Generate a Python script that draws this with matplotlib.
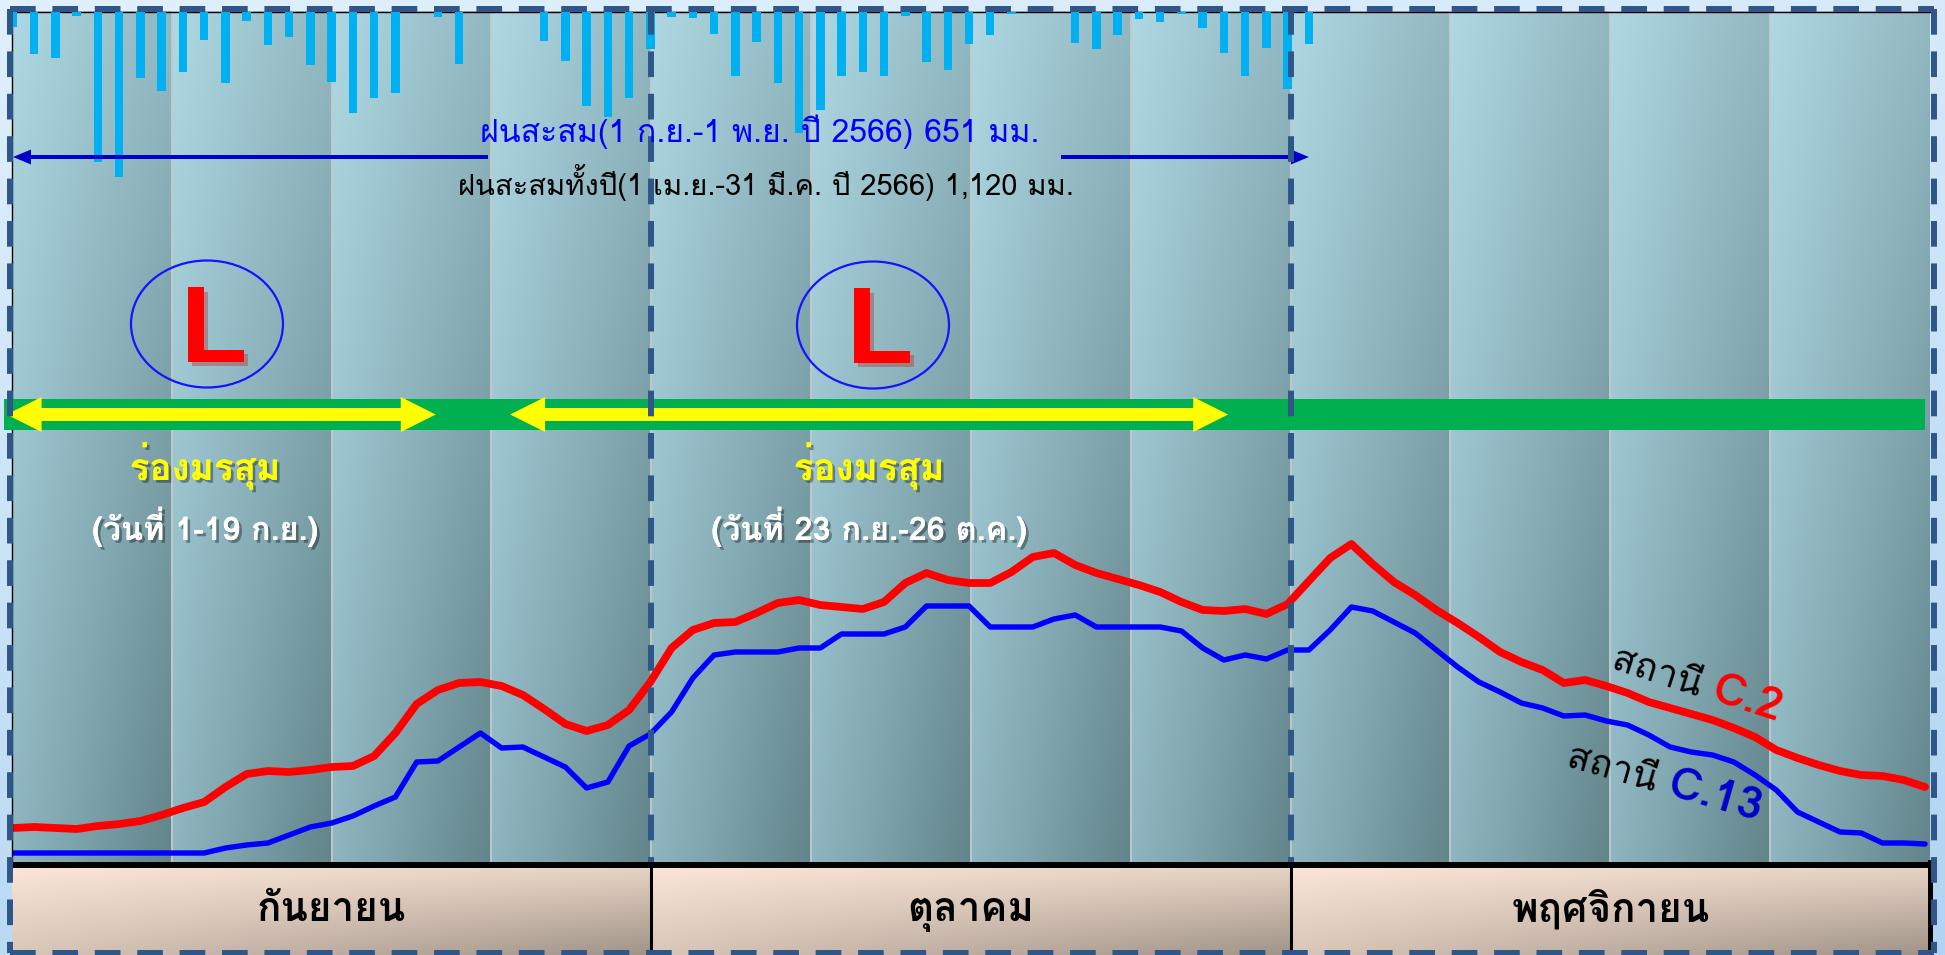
import numpy as np
import matplotlib
matplotlib.use("Agg")
import matplotlib.pyplot as plt
import matplotlib.patheffects as pe
from matplotlib.patches import Ellipse, Polygon, FancyArrow, Rectangle

# Loma stacks Thai tone marks over upper vowels (วันที่, ทั้ง) without shaping
THAI = ["Loma", "Sarabun", "DejaVu Sans"]
plt.rcParams["font.family"] = THAI

# daily rain (mm), 1 Sep - 1 Nov 2566
rain_mm = [3.4, 9.8, 10.7, 0.9, 35.0, 38.5, 15.4, 18.4, 14.0, 6.5,
           16.5, 2.1, 7.7, 5.8, 12.3, 16.3, 23.5, 20.0, 18.9, 0.0,
           1.2, 12.1, 0.0, 0.0, 0.0, 6.8, 11.4, 21.9, 24.5, 20.0,
           8.6, 1.2, 1.4, 5.1, 14.9, 7.0, 16.5, 28.2, 22.8, 14.9,
           14.0, 14.9, 0.9, 11.6, 13.5, 7.5, 5.4, 0.5, 0.0, 0.0,
           7.2, 8.6, 5.4, 1.6, 2.3, 0.5, 3.7, 9.6, 14.9, 8.4,
           17.9, 7.5]

# water level above chart base (m), 1 Sep - 30 Nov
level_c2 = [0.34, 0.35, 0.34, 0.33, 0.36, 0.38, 0.41, 0.47, 0.54, 0.60,
            0.75, 0.88, 0.91, 0.90, 0.92, 0.95, 0.96, 1.06, 1.29, 1.58,
            1.72, 1.79, 1.80, 1.76, 1.67, 1.53, 1.38, 1.31, 1.37, 1.52,
            1.80, 2.14, 2.32, 2.39, 2.40, 2.49, 2.59, 2.62, 2.57, 2.55,
            2.53, 2.60, 2.79, 2.89, 2.82, 2.79, 2.79, 2.90, 3.05, 3.09,
            2.97, 2.89, 2.83, 2.77, 2.70, 2.60, 2.52, 2.51, 2.53, 2.48,
            2.58, 2.81, 3.04, 3.18, 2.98, 2.80, 2.67, 2.52, 2.39, 2.25,
            2.10, 2.00, 1.92, 1.79, 1.82, 1.76, 1.69, 1.60, 1.54, 1.48,
            1.42, 1.34, 1.25, 1.12, 1.04, 0.97, 0.91, 0.87, 0.86, 0.82,
            0.75]
level_c13 = [0.09, 0.09, 0.09, 0.09, 0.09, 0.09, 0.09, 0.09, 0.09, 0.09,
             0.14, 0.17, 0.19, 0.27, 0.35, 0.39, 0.46, 0.56, 0.65, 1.00,
             1.01, 1.15, 1.29, 1.14, 1.15, 1.05, 0.95, 0.74, 0.80, 1.16,
             1.28, 1.50, 1.84, 2.07, 2.10, 2.10, 2.10, 2.14, 2.14, 2.28,
             2.28, 2.28, 2.35, 2.56, 2.56, 2.56, 2.35, 2.35, 2.35, 2.43,
             2.47, 2.35, 2.35, 2.35, 2.35, 2.31, 2.14, 2.02, 2.07, 2.03,
             2.12, 2.12, 2.32, 2.55, 2.51, 2.40, 2.29, 2.12, 1.95, 1.80,
             1.70, 1.59, 1.54, 1.46, 1.47, 1.41, 1.37, 1.27, 1.15, 1.10,
             1.07, 1.00, 0.87, 0.72, 0.50, 0.40, 0.30, 0.29, 0.19, 0.19,
             0.18]

months = ["กันยายน", "ตุลาคม", "พฤศจิกายน"]
# monsoon trough periods (day index from 1 Sep)
trough_start = [-0.3, 23.4]
trough_end = [19.9, 57.2]
trough_dates = ["(วันที่ 1-19 ก.ย.)", "(วันที่ 23 ก.ย.-26 ต.ค.)"]
rain_note = "ฝนสะสม(1 ก.ย.-1 พ.ย. ปี 2566) 651 มม."
year_note = "ฝนสะสมทั้งปี(1 เม.ย.-31 มี.ค. ปี 2566) 1,120 มม."
stations = ["C.2", "C.13"]

W, H = 1945, 955
L, R, T, B = 12, 1930, 12, 862          # plot box, pixels from top-left
DASH = "#2f5689"

fig = plt.figure(figsize=(W / 100, H / 100), dpi=100)


def pixel_axes(z):
    a = fig.add_axes([0, 0, 1, 1], zorder=z)
    a.axis("off")
    a.patch.set_alpha(0)
    return a


def fix(a):
    a.set_xlim(0, W)
    a.set_ylim(H, 0)


def bilinear(h, w, tl, tr, bl, br):
    u = np.linspace(0, 1, w)[None, :, None]
    v = np.linspace(0, 1, h)[:, None, None]
    tl, tr, bl, br = (np.array(c) / 255 for c in (tl, tr, bl, br))
    return (1 - u) * (1 - v) * tl + u * (1 - v) * tr + (1 - u) * v * bl + u * v * br


# ---- background: page, shaded columns, month boxes
bg = pixel_axes(0)
bg.imshow(bilinear(60, 60, (224, 240, 252), (214, 234, 250), (186, 218, 244), (176, 212, 242)),
          extent=(0, W, H, 0), aspect="auto", interpolation="bilinear")
sw = (R - L) / 12
col = bilinear(B - T, 160, (174, 216, 227), (146, 184, 193), (142, 182, 192), (98, 132, 139))
for k in range(12):
    x0 = L + k * sw
    bg.imshow(col, extent=(x0, x0 + sw, B, T), aspect="auto", interpolation="bilinear")
    if k:
        bg.plot([x0, x0], [T, B], color="#c4cbcd", lw=1.3)
mw = (R - L) / 3
box = bilinear(80, 160, (251, 230, 215), (232, 212, 197), (216, 198, 184), (160, 147, 136))
for k in range(3):
    bg.imshow(box, extent=(L + k * mw, L + (k + 1) * mw, H, B + 4), aspect="auto",
              interpolation="bilinear")
fix(bg)

# ---- data: water levels and daily rain
ax = fig.add_axes([L / W, 1 - B / H, (R - L) / W, (B - T) / H], zorder=1)
ax.patch.set_alpha(0)
days = np.arange(len(level_c2))
ax.plot(days, level_c2, color="#ff0000", lw=5.6, solid_joinstyle="round", solid_capstyle="round")
ax.plot(days, level_c13, color="#0000ff", lw=3.9, solid_joinstyle="round", solid_capstyle="round")
ax.set_xlim(-0.047, 90.235)
ax.set_ylim(0, 8.5)
ax.set_xticks([])
ax.set_yticks([])
for s in ("right", "bottom"):
    ax.spines[s].set_visible(False)
for s in ("left", "top"):
    ax.spines[s].set_color("black")
    ax.spines[s].set_linewidth(1.0)

rax = ax.twinx()
rax.bar(np.arange(len(rain_mm)), rain_mm, width=0.4, color="#00b0f0")
rax.set_ylim(198, 0)
rax.axis("off")


def px_x(d):
    return ax.transData.transform((d, 0))[0]


# ---- annotations
top = pixel_axes(3)

# accumulated rain arrow with the note in its gap
ya = 157
for x_from, x_to in ((488, px_x(0)), (1061, px_x(len(rain_mm) - 1))):
    top.add_patch(FancyArrow(x_from, ya, x_to - x_from, 0, width=4, head_width=15, head_length=18,
                             length_includes_head=True, color="#0000cc", lw=0))
top.text(760, 142, rain_note, color="#0000ff", fontsize=23, ha="center", va="baseline")
top.text(766, 195, year_note, color="black", fontsize=21, ha="center", va="baseline")

# low pressure marks
shadow = [pe.withSimplePatchShadow(offset=(2, -2), shadow_rgbFace="black", alpha=0.35), pe.Normal()]
for cx, cy in ((207, 324), (873, 325)):
    top.add_patch(Ellipse((cx, cy), 152, 127, fill=False, ec="#1414ff", lw=1.6))
    top.text(cx + 7, cy + 38, "L", color="#ff0000", fontsize=78, fontweight="bold", ha="center",
             va="baseline", family=["Liberation Sans Narrow", "Liberation Sans", "DejaVu Sans"],
             path_effects=[pe.withSimplePatchShadow(offset=(3, -3), shadow_rgbFace="#b04040",
                                                    alpha=0.45), pe.Normal()])

# monsoon trough band
top.add_patch(Rectangle((4.5, 399), 1921, 31, color="#00b050", lw=0))
yc, sh, hh, hl = 414.5, 6.5, 17.5, 35
for d0, d1 in zip(trough_start, trough_end):
    x0, x1 = px_x(d0), px_x(d1)
    pts = [(x0, yc), (x0 + hl, yc - hh), (x0 + hl, yc - sh), (x1 - hl, yc - sh), (x1 - hl, yc - hh),
           (x1, yc), (x1 - hl, yc + hh), (x1 - hl, yc + sh), (x0 + hl, yc + sh), (x0 + hl, yc + hh)]
    top.add_patch(Polygon(pts, closed=True, fc="#ffff00", ec="none"))
for cx, label in zip((205, 869), trough_dates):
    top.text(cx, 480, "ร่องมรสุม", color="#ffff00", fontsize=26.5, fontweight="bold", ha="center",
             va="baseline", path_effects=shadow)
    top.text(cx, 540, label, color="white", fontsize=23.3, fontweight="bold", ha="center",
             va="baseline", path_effects=shadow)

# station labels
for (x, y), ang, color, code in zip(((1710, 700), (1666, 795)), (-18, -16),
                                    ("#ff0000", "#0000cc"), stations):
    top.text(x, y, "สถานี ", rotation=ang, rotation_mode="anchor", ha="right", va="baseline",
             fontsize=27, color="black")
    top.text(x, y, code, rotation=ang, rotation_mode="anchor", ha="left", va="baseline",
             fontsize=33, fontweight="bold", color=color)

# month boxes
top.plot([L, R], [B + 2.5, B + 2.5], color="black", lw=4.3, solid_capstyle="butt")
for k in range(1, 3):
    top.plot([L + k * mw] * 2, [B, H], color="black", lw=2.2)
top.plot([R, R], [B, H], color="black", lw=3.6)
for k, name in enumerate(months):
    top.text(L + (k + 0.5) * mw, 921, name, fontsize=29, fontweight="bold", ha="center",
             va="baseline", color="black")

# dashed frame and month dividers
dash = dict(color=DASH, lw=4.3, linestyle=(0, (4.3, 2.8)), solid_capstyle="butt")
top.plot([10, 1934], [9, 9], **dash)
top.plot([10, 1934], [953, 953], **dash)
top.plot([10, 10], [9, 953], **dash)
top.plot([1934, 1934], [9, 953], **dash)
for k in range(1, 3):
    top.plot([L + k * mw] * 2, [9, B], **dash)
fix(top)

fig.savefig("out.png", dpi=100)
